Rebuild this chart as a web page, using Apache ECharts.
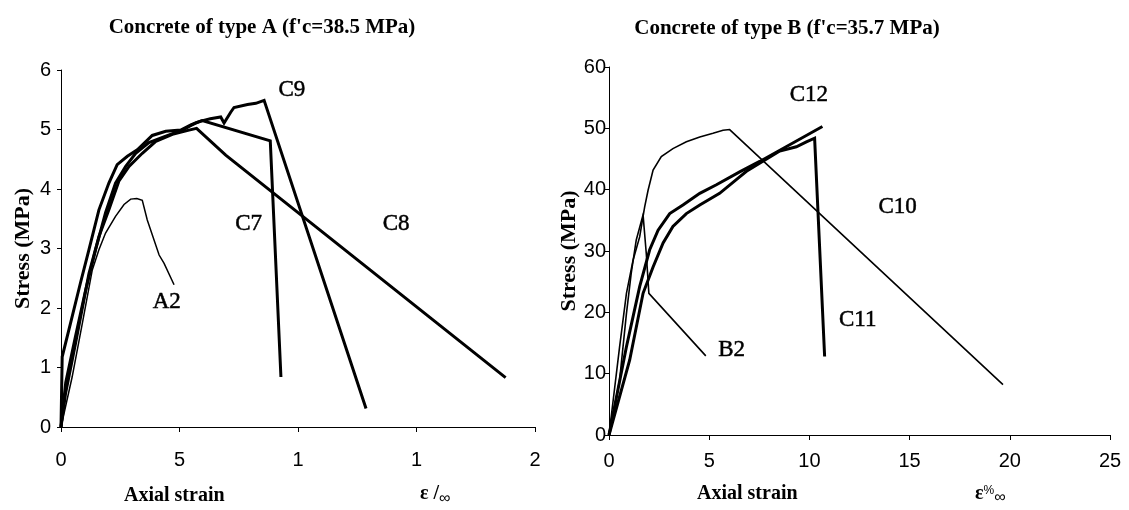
<!DOCTYPE html>
<html>
<head>
<meta charset="utf-8">
<script src="https://cdn.jsdelivr.net/npm/echarts@6/dist/echarts.min.js"></script>
<style>
html, body { margin: 0; padding: 0; background: #fff; }
#chart { width: 1129px; height: 510px; }
</style>
</head>
<body>
<div id="chart"></div>
<script>
// --- left panel: concrete of type A, strain values ---
var tickLabelsA = ['0', '5', '1', '1', '2'];
var curveA2 = [[0, 0], [0.47, 0.84], [0.9, 1.74], [1.32, 2.64], [1.6, 2.98], [1.88, 3.26], [2.3, 3.54],
  [2.66, 3.74], [2.94, 3.83], [3.2, 3.84], [3.43, 3.81], [3.64, 3.48], [4.14, 2.89], [4.35, 2.75], [4.77, 2.39]];
var curveC7 = [[0, 0], [0.2, 0.75], [0.61, 1.52], [1.04, 2.3], [1.46, 2.98], [1.88, 3.6], [2.3, 4.1],
  [2.73, 4.38], [3.15, 4.6], [3.71, 4.78], [4.42, 4.89], [5.12, 4.99], [5.68, 5.11], [5.96, 5.15],
  [8.83, 4.81], [9.28, 0.84]];
var curveC8 = [[0, 0], [0.19, 0.56], [0.61, 1.4], [1.18, 2.58], [1.6, 3.2], [2.02, 3.65], [2.44, 4.13],
  [2.87, 4.38], [3.43, 4.6], [4.0, 4.8], [4.7, 4.92], [5.4, 4.99], [5.72, 5.02], [6.95, 4.57], [18.76, 0.83]];
var curveC9 = [[0, 0], [0.05, 1.18], [0.4, 1.74], [0.82, 2.42], [1.18, 2.98], [1.6, 3.65], [2.02, 4.1],
  [2.37, 4.41], [2.8, 4.55], [3.22, 4.66], [3.85, 4.9], [4.42, 4.97], [5.05, 4.99], [5.5, 5.08],
  [5.9, 5.14], [6.3, 5.18], [6.74, 5.21], [6.88, 5.11], [7.16, 5.29], [7.3, 5.37], [7.87, 5.42],
  [8.22, 5.44], [8.57, 5.49], [12.87, 0.31]];
var namesA = ['C9', 'C7', 'A2', 'C8'];
var namePointsA = [[9.74, 5.67], [7.92, 3.41], [4.46, 2.11], [14.14, 3.41]];

// --- right panel: concrete of type B ---
var curveB2 = [[0, 0], [0.53, 9], [0.87, 19.8], [1.11, 26.4], [1.36, 31.8], [1.7, 35.9], [1.86, 29.6],
  [1.99, 23.1], [4.83, 12.9]];
var curveC10 = [[0, 0], [0.53, 14.4], [0.87, 23.1], [1.2, 28.5], [1.53, 32.3], [1.78, 37.2], [1.95, 39.9],
  [2.2, 43.2], [2.61, 45.4], [3.19, 46.7], [3.86, 47.8], [4.53, 48.6], [5.19, 49.2], [5.69, 49.7],
  [6.02, 49.8], [19.66, 8.2]];
var curveC11 = [[0, 0], [1.03, 12.2], [1.7, 23.1], [2.2, 27.4], [2.7, 31.3], [3.19, 34], [3.86, 36.1],
  [4.53, 37.5], [5.52, 39.4], [6.52, 42.1], [6.86, 43.0], [8.52, 46.3], [9.35, 47.0], [9.85, 47.8],
  [10.26, 48.4], [10.76, 12.8]];
var curveC12 = [[0, 0], [0.87, 14.4], [1.53, 24.2], [2.03, 30.2], [2.45, 33.4], [3.03, 36.1], [3.69, 37.5],
  [4.53, 39.4], [5.36, 40.8], [6.52, 42.9], [7.52, 44.6], [10.65, 50.3]];
var namesB = ['C12', 'C10', 'C11', 'B2'];
var namePointsB = [[9.97, 55.5], [14.4, 37.2], [12.41, 18.8], [6.12, 13.9]];

var serif = 'Liberation Serif, Times New Roman, serif';
var sans = 'Liberation Sans, Arial, sans-serif';

function line(name, data, width, idx) {
  return {
    name: name,
    type: 'line',
    xAxisIndex: idx,
    yAxisIndex: idx,
    data: data,
    symbol: 'none',
    lineStyle: { color: '#000', width: width, join: 'miter' },
    z: 3
  };
}

// curve names written next to the curves, anchored in data units
function curveNames(names, points, idx) {
  return {
    type: 'scatter',
    xAxisIndex: idx,
    yAxisIndex: idx,
    symbolSize: 0,
    itemStyle: { opacity: 1 },
    emphasis: { disabled: true },
    data: names.map(function (n, i) { return { name: n, value: points[i] }; }),
    label: {
      show: true,
      position: 'inside',
      formatter: '{b}',
      color: '#000',
      textBorderColor: '#000',
      textBorderWidth: 0.5,
      fontFamily: serif,
      fontSize: 23
    },
    z: 5
  };
}

function xAx(idx, max, margin, fmt) {
  return {
    gridIndex: idx,
    type: 'value',
    min: 0,
    max: max,
    interval: 5,
    axisLine: { lineStyle: { color: '#000', width: 1 } },
    axisTick: { show: true, length: 5, lineStyle: { color: '#000' } },
    splitLine: { show: false },
    axisLabel: { color: '#000', fontFamily: sans, fontSize: 20, margin: margin, formatter: fmt }
  };
}

function yAx(idx, max, interval, margin, gap) {
  return {
    gridIndex: idx,
    type: 'value',
    min: 0,
    max: max,
    interval: interval,
    name: 'Stress (MPa)',
    nameLocation: 'middle',
    nameGap: gap,
    nameRotate: 90,
    nameTextStyle: { color: '#000', fontFamily: serif, fontWeight: 'bold', fontSize: 22 },
    axisLine: { show: true, lineStyle: { color: '#000', width: 1 } },
    axisTick: { show: true, length: 4, lineStyle: { color: '#000' } },
    splitLine: { show: false },
    axisLabel: { color: '#000', fontFamily: sans, fontSize: 20, margin: margin }
  };
}

var chart = echarts.init(document.getElementById('chart'));
var option = {
  backgroundColor: '#fff',
  animation: false,
  title: [
    { text: "Concrete of type A (f'c=38.5 MPa)", left: 257, top: 12, textAlign: 'center',
      textStyle: { fontFamily: serif, fontWeight: 'bold', fontSize: 21, color: '#000' } },
    { text: "Concrete of type B (f'c=35.7 MPa)", left: 782, top: 13, textAlign: 'center',
      textStyle: { fontFamily: serif, fontWeight: 'bold', fontSize: 21, color: '#000' } }
  ],
  grid: [
    { left: 61, top: 70, width: 474, height: 357 },
    { left: 609, top: 67, width: 501, height: 368 }
  ],
  xAxis: [
    xAx(0, 20, 23, function (v) { return tickLabelsA[Math.round(v / 5)]; }),
    xAx(1, 25, 16)
  ],
  yAxis: [
    yAx(0, 6, 1, 10, 27),
    yAx(1, 60, 10, 3, 22)
  ],
  graphic: [
    { type: 'text', left: 124, top: 486, style: { text: 'Axial strain', font: 'bold 20px ' + serif, fill: '#000' } },
    { type: 'text', left: 420, top: 484, style: { text: 'ε /{s|∞}', rich: { s: { fontSize: 16, padding: [10, 0, 0, 0] } },
      font: 'bold 20px ' + serif, fill: '#000' } },
    { type: 'text', left: 697, top: 484, style: { text: 'Axial strain', font: 'bold 20px ' + serif, fill: '#000' } },
    { type: 'text', left: 975, top: 484, style: { text: 'ε{p|%}{s|∞}',
      rich: { p: { fontSize: 12, padding: [0, 0, 6, 0] }, s: { fontSize: 16, padding: [8, 0, 0, 0] } },
      font: 'bold 20px ' + serif, fill: '#000' } }
  ],
  series: [
    line('A2', curveA2, 1.5, 0),
    line('C7', curveC7, 3, 0),
    line('C8', curveC8, 3, 0),
    line('C9', curveC9, 3, 0),
    curveNames(namesA, namePointsA, 0),
    line('B2', curveB2, 1.6, 1),
    line('C10', curveC10, 1.6, 1),
    line('C11', curveC11, 3, 1),
    line('C12', curveC12, 3, 1),
    curveNames(namesB, namePointsB, 1)
  ]
};
chart.setOption(option);
</script>
</body>
</html>
